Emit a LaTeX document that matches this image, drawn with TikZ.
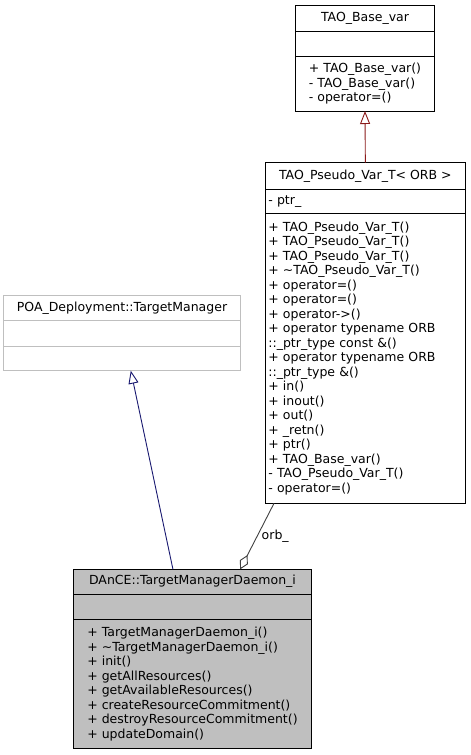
\documentclass[tikz,border=0pt]{standalone}
\usepackage{fontspec}
\setmainfont{DejaVu Sans}
\usetikzlibrary{calc,positioning}
\usetikzlibrary{arrows.meta}

\definecolor{pubblue}{HTML}{191970}
\definecolor{protred}{HTML}{8B1A1A}
\definecolor{usegray}{HTML}{404040}
\definecolor{cellgray}{HTML}{BFBFBF}

\begin{document}
\begin{tikzpicture}[x=1pt,y=-1pt,
    text=black,
    node font=\fontsize{12.5}{14.5}\selectfont,
    sect/.style={draw, line width=1pt, rectangle, outer sep=0pt,
      inner sep=2pt, align=left},
    faded/.style={sect, draw=cellgray},
    current/.style={sect, fill=cellgray},
    openinh/.style={-{Triangle[open,length=13pt,width=10pt]}, line width=0.9pt}]

  \useasboundingbox (0,0) rectangle (471,755);

  % --- TAO_Base_var ---------------------
  \node (BV) at (365,18.7) [sect, minimum width=138.6pt, minimum height=26pt]
        {TAO\_Base\_var};
  \node (BVa) [below=0pt of BV, sect, minimum width=138.6pt,
    minimum height=25pt] {};
  \node (BVm) [below=0pt of BVa, sect, minimum width=138.6pt,
    minimum height=54.3pt]
        {+ TAO\_Base\_var()\\- TAO\_Base\_var()\\- operator=()};

  % --- TAO_Pseudo_Var_T -----------------
  \node (PSV) at (365.35,175.85) [sect, minimum width=200.7pt,
    minimum height=26.3pt] {TAO\_Pseudo\_Var\_T< ORB >};
  \node (PSVa) [below=0pt of PSV, sect, minimum width=200.7pt,
    minimum height=24.3pt, text width=194pt] {- ptr\_};
  \node (PSVm) [below=0pt of PSVa, sect, minimum width=200.7pt,
    minimum height=290pt, text width=194pt]
        {+ TAO\_Pseudo\_Var\_T()\\+ TAO\_Pseudo\_Var\_T()\\
         + TAO\_Pseudo\_Var\_T()\\+ \textasciitilde TAO\_Pseudo\_Var\_T()\\
         + operator=()\\+ operator=()\\+ operator->()\\
         + operator typename ORB\\::\_ptr\_type const \&()\\
         + operator typename ORB\\::\_ptr\_type \&()\\
         + in()\\+ inout()\\+ out()\\+ \_retn()\\+ ptr()\\
         + TAO\_Base\_var()\\- TAO\_Pseudo\_Var\_T()\\- operator=()};

  \draw[protred, openinh] (PSV.north) -- (BVm.south);

  % --- POA_Deployment::TargetManager ----
  \node (POA) at (122,307.85) [faded, minimum width=237.4pt,
    minimum height=25.7pt] {POA\_Deployment::TargetManager};
  \node (POAa) [below=0pt of POA, faded, minimum width=237.4pt,
    minimum height=25.3pt] {};
  \node (POAm) [below=0pt of POAa, faded, minimum width=237.4pt,
    minimum height=24.7pt] {};

  % --- DAnCE::TargetManagerDaemon_i -----
  \node (TMD) at (192.5,581.65) [current, minimum width=238.4pt,
    minimum height=24.7pt] {DAnCE::TargetManagerDaemon\_i};
  \node (TMDa) [below=0pt of TMD, current, minimum width=238.4pt,
    minimum height=25.3pt] {};
  \node (TMDm) [below=0pt of TMDa, current, minimum width=238.4pt,
    minimum height=129pt]
        {+ TargetManagerDaemon\_i()\\+ \textasciitilde TargetManagerDaemon\_i()\\
         + init()\\+ getAllResources()\\+ getAvailableResources()\\
         + createResourceCommitment()\\+ destroyResourceCommitment()\\
         + updateDomain()};

  \draw[pubblue, openinh]
        ($(TMD.north west)!0.418!(TMD.north east)$) --
        ($(POAm.south west)!0.537!(POAm.south east)$);

  % orb_ member
  \draw[usegray, line width=0.9pt,
        {Diamond[open,length=16pt,width=9pt]}-]
        ($(TMD.north west)!0.70!(TMD.north east)$) --
        node[right, text=black, pos=0.5] {orb\_}
        ($(PSVm.south west)!0.045!(PSVm.south east)$);
\end{tikzpicture}
\end{document}
